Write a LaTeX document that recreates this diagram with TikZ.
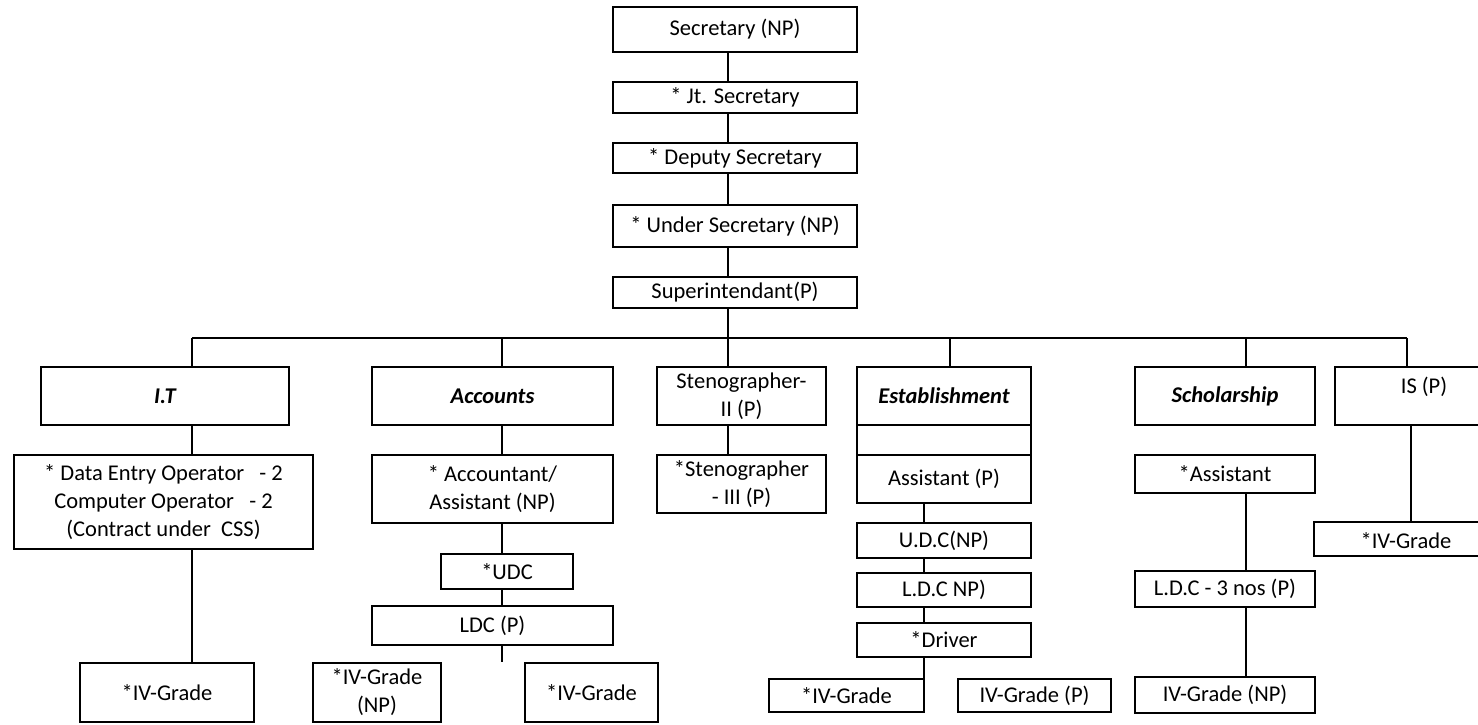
\documentclass[tikz,border=0pt]{standalone}
\usepackage{fontspec}
\setmainfont{Carlito}
\begin{document}
\begin{tikzpicture}[x=1pt,y=-1pt,
  box/.style={draw, line width=1.5pt, inner sep=0pt, align=center,
    font=\fontsize{22.5}{28}\selectfont},
  head/.style={box, font=\fontsize{22.5}{28}\selectfont\bfseries\itshape},
  label/.style={inner sep=0pt, align=center, font=\fontsize{22.5}{28}\selectfont},
  link/.style={line width=1.5pt}]
\useasboundingbox (0,0) rectangle (1478,724);
\clip (0,0) rectangle (1478,724);

% top chain
\node[box, minimum width=244pt, minimum height=45pt] (sec) at (735,29.5) {Secretary (NP)};
\node[box, minimum width=244pt, minimum height=31pt] (jt) at (735,97.5) {* Jt. Secretary};
\node[box, minimum width=244pt, minimum height=30pt] (dep) at (735,158) {* Deputy Secretary};
\node[box, minimum width=244pt, minimum height=42pt] (under) at (735,226) {* Under Secretary (NP)};
\node[box, minimum width=244pt, minimum height=31pt] (sup) at (735,292.5) {Superintendant(P)};

% section heads
\node[head, minimum width=248pt, minimum height=58pt] (it) at (165,396) {I.T};
\node[head, minimum width=241pt, minimum height=58pt] (acc) at (492.5,396) {Accounts};
\node[box, minimum width=169pt, minimum height=58pt] (st2) at (741.5,396) {Stenographer-\\II (P)};
\node[head, minimum width=174pt, minimum height=58pt] (est) at (944,396) {Establishment};
\node[head, minimum width=180pt, minimum height=58pt] (sch) at (1225,396) {Scholarship};
\node[box, minimum width=180pt, minimum height=58pt] (is) at (1425,396) {};
\node[label] (istext) at (1424,387) {IS (P)};

% I.T column
\node[box, minimum width=299pt, minimum height=94pt] (deo) at (163.5,502)
  {* Data Entry Operator \ \ - 2\\Computer Operator \ \ - 2\\(Contract under \ CSS)};
\node[box, minimum width=174pt, minimum height=59pt] (itg) at (167,692.5) {*IV-Grade};

% Accounts column
\node[box, minimum width=241pt, minimum height=68pt] (acct) at (492.5,489) {* Accountant/\\Assistant (NP)};
\node[box, minimum width=132pt, minimum height=35pt] (udc) at (507,571.5) {*UDC};
\node[box, minimum width=241pt, minimum height=39pt] (ldc) at (492.5,625.5) {LDC (P)};
\node[box, minimum width=128pt, minimum height=59pt] (ag1) at (377,692.5) {*IV-Grade\\(NP)};
\node[box, minimum width=133pt, minimum height=59pt] (ag2) at (591.5,692.5) {*IV-Grade};

% Stenographer column
\node[box, minimum width=169pt, minimum height=58pt] (st3) at (741.5,484) {*Stenographer\\- III (P)};

% Establishment column
\node[box, minimum width=174pt, minimum height=30pt] (estgap) at (944,440) {};
\node[box, minimum width=174pt, minimum height=48pt] (asst) at (944,479) {Assistant (P)};
\node[box, minimum width=174pt, minimum height=35pt] (eudc) at (944,540.5) {U.D.C(NP)};
\node[box, minimum width=174pt, minimum height=34pt] (eldc) at (944,590) {L.D.C NP)};
\node[box, minimum width=174pt, minimum height=34pt] (drv) at (944,640) {*Driver};
\node[box, minimum width=155pt, minimum height=33pt] (eg1) at (846.5,695.5) {*IV-Grade};
\node[box, minimum width=153pt, minimum height=33pt] (eg2) at (1034.5,695.5) {IV-Grade (P)};

% Scholarship column
\node[box, minimum width=180pt, minimum height=38pt] (sast) at (1225,474) {*Assistant};
\node[box, minimum width=180pt, minimum height=36pt] (sldc) at (1225,589) {L.D.C - 3 nos (P)};
\node[box, minimum width=180pt, minimum height=36pt] (sg) at (1225,695) {IV-Grade (NP)};

% IS column
\node[box, minimum width=186pt, minimum height=34pt] (isg) at (1407,539) {};
\node[label] (isgtext) at (1406,541) {*IV-Grade};

% connector columns
\coordinate (trunk) at (728,338);
\coordinate (busL) at (192,338);
\coordinate (busR) at (1407,338);
\coordinate (accx) at (502,338);
\coordinate (estx) at (950,338);
\coordinate (estcol) at (924,338);
\coordinate (schx) at (1246,338);
\coordinate (isx) at (1411,338);

\draw[link] (sec.south -| trunk) -- (jt.north -| trunk);
\draw[link] (jt.south -| trunk) -- (dep.north -| trunk);
\draw[link] (dep.south -| trunk) -- (under.north -| trunk);
\draw[link] (under.south -| trunk) -- (sup.north -| trunk);
\draw[link] (sup.south -| trunk) -- (st2.north -| trunk);
\draw[link] (busL) -- (busR);

\draw[link] (busL) -- (it.north -| busL);
\draw[link] (it.south -| busL) -- (deo.north -| busL);
\draw[link] (deo.south -| busL) -- (itg.north -| busL);

\draw[link] (accx) -- (acc.north -| accx);
\draw[link] (acc.south -| accx) -- (acct.north -| accx);
\draw[link] (acct.south -| accx) -- (udc.north -| accx);
\draw[link] (udc.south -| accx) -- (ldc.north -| accx);
\draw[link] (ldc.south -| accx) -- (ag1.north -| accx);

\draw[link] (st2.south -| trunk) -- (st3.north -| trunk);

\draw[link] (estx) -- (est.north -| estx);
\draw[link] (asst.south -| estcol) -- (eudc.north -| estcol);
\draw[link] (eudc.south -| estcol) -- (eldc.north -| estcol);
\draw[link] (eldc.south -| estcol) -- (drv.north -| estcol);
\draw[link] (drv.south -| estcol) -- (eg1.south -| estcol);

\draw[link] (schx) -- (sch.north -| schx);
\draw[link] (sast.south -| schx) -- (sldc.north -| schx);
\draw[link] (sldc.south -| schx) -- (sg.north -| schx);

\draw[link] (busR) -- (is.north -| busR);
\draw[link] (is.south -| isx) -- (isg.north -| isx);
\end{tikzpicture}
\end{document}
